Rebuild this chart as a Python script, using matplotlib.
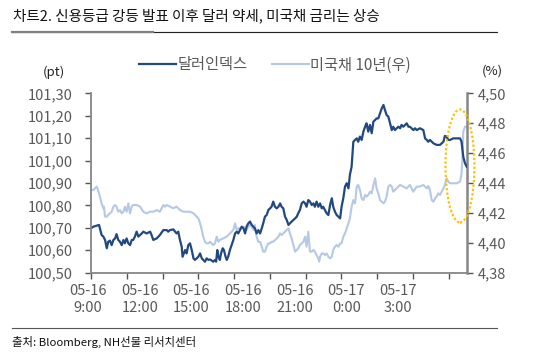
import numpy as np
import matplotlib
matplotlib.use("Agg")
import matplotlib.pyplot as plt
from matplotlib.lines import Line2D
from matplotlib.patches import Ellipse
from matplotlib.ticker import FuncFormatter

plt.rcParams['font.family'] = ['Noto Sans CJK KR', 'DejaVu Sans']

title = "차트2. 신용등급 강등 발표 이후 달러 약세, 미국채 금리는 상승"
source = "출처: Bloomberg, NH선물 리서치센터"
dxy_label = "달러인덱스"
ust_label = "미국채 10년(우)"
x_labels = ["05-16\n9:00", "05-16\n12:00", "05-16\n15:00", "05-16\n18:00",
            "05-16\n21:00", "05-17\n0:00", "05-17\n3:00"]

# minutes elapsed since 05-16 9:00 (approx.)
dxy_time = [0, 8, 20, 28, 37, 43, 49, 55, 60, 66,
            72, 78, 84, 89, 95, 101, 107, 113, 118, 124,
            130, 136, 142, 147, 153, 159, 165, 171, 177, 182,
            194, 206, 211, 217, 229, 240, 252, 264, 269, 275,
            287, 298, 304, 310, 316, 319, 328, 333, 339, 345,
            351, 357, 362, 368, 374, 380, 386, 391, 397, 403,
            409, 415, 426, 432, 436, 440, 444, 449, 453, 459,
            463, 469, 473, 478, 484, 490, 496, 502, 508, 513,
            519, 525, 531, 537, 542, 548, 554, 560, 566, 571,
            577, 583,
            589, 595, 600, 606, 612, 618, 624, 629, 635, 641,
            647, 653, 659, 664, 670, 676, 682, 688, 693, 699,
            705, 711, 717, 722, 728, 734, 740, 746, 751, 757,
            763, 769, 775, 780, 786, 792, 798, 804, 809, 815,
            821, 827, 833, 839, 844, 850, 856, 862, 868, 873,
            879, 885, 891, 897, 902, 908, 914, 920, 926, 931,
            937, 943, 949, 955, 960, 966, 972, 978, 984, 990,
            995, 1001, 1007, 1013, 1019, 1024, 1030, 1036, 1042, 1048,
            1053, 1059, 1065, 1071, 1077, 1082, 1088, 1100, 1106, 1111,
            1117, 1123, 1129, 1135, 1146, 1158, 1164, 1170, 1175, 1181,
            1193, 1204, 1216, 1228, 1233, 1239, 1245, 1251, 1262, 1274,
            1286, 1291, 1297, 1303, 1309]
dxy_value = [100.698, 100.705, 100.710, 100.713, 100.668, 100.661, 100.646, 100.609, 100.638, 100.643,
             100.623, 100.646, 100.653, 100.672, 100.646, 100.638, 100.623, 100.646, 100.631, 100.653,
             100.631, 100.623, 100.646, 100.646, 100.661, 100.683, 100.661, 100.668, 100.675, 100.683,
             100.675, 100.683, 100.668, 100.646, 100.653, 100.668, 100.690, 100.690, 100.683, 100.690,
             100.693, 100.675, 100.683, 100.646, 100.616, 100.571, 100.601, 100.586, 100.623, 100.631,
             100.601, 100.564, 100.557, 100.564, 100.571, 100.586, 100.564, 100.557, 100.549, 100.564,
             100.557, 100.559, 100.549, 100.557, 100.549, 100.601, 100.571, 100.557, 100.586, 100.609,
             100.601, 100.571, 100.557, 100.571, 100.601, 100.623, 100.646, 100.675, 100.683, 100.675,
             100.690, 100.705, 100.698, 100.675, 100.705, 100.720, 100.728, 100.713, 100.705, 100.698,
             100.675, 100.690,
             100.675, 100.698, 100.720, 100.750, 100.757, 100.780, 100.787, 100.794, 100.817, 100.794,
             100.787, 100.794, 100.809, 100.794, 100.787, 100.750, 100.735, 100.713, 100.720, 100.728,
             100.735, 100.742, 100.750, 100.765, 100.780, 100.809, 100.817, 100.809, 100.794, 100.824,
             100.817, 100.802, 100.809, 100.794, 100.817, 100.794, 100.809, 100.787, 100.794, 100.780,
             100.765, 100.757, 100.802, 100.832, 100.794, 100.772, 100.757, 100.750, 100.742, 100.794,
             100.832, 100.884, 100.899, 100.876, 100.936, 100.973, 101.084, 101.092, 101.099, 101.084,
             101.107, 101.092, 101.129, 101.151, 101.166, 101.129, 101.159, 101.122, 101.174, 101.181,
             101.188, 101.188, 101.211, 101.233, 101.248, 101.226, 101.203, 101.196, 101.166, 101.136,
             101.151, 101.136, 101.144, 101.151, 101.144, 101.159, 101.151, 101.166, 101.151, 101.151,
             101.144, 101.136, 101.144, 101.136, 101.144, 101.136, 101.099, 101.092, 101.084, 101.092,
             101.077, 101.070, 101.070, 101.084, 101.110, 101.107, 101.092, 101.092, 101.099, 101.099,
             101.099, 101.084, 101.017, 100.988, 100.973]

ust_time = [0, 8, 14, 20, 26, 31, 37, 43, 45, 49,
            55, 60, 66, 72, 78, 84, 89, 95, 101, 107,
            113, 118, 124, 130, 136, 142, 147, 159, 171, 182,
            194, 206, 217, 229, 240, 252, 258, 264, 275, 287,
            298, 310, 322, 333, 345, 357, 368, 374, 380, 386,
            391, 397, 403, 409, 415, 426, 432, 438, 444, 449,
            461, 473, 484, 496, 502, 508, 513, 519, 531, 542,
            548, 554, 560, 566, 571, 577, 583, 589,
            595, 600, 606, 612, 618, 624, 629, 635, 647, 653,
            659, 664, 670, 676, 682, 688, 693, 699, 705, 711,
            717, 722, 728, 734, 740, 746, 751, 757, 763, 769,
            775, 780, 786, 792, 795, 798, 804, 809, 815, 821,
            827, 833, 839, 844, 850, 856, 862, 868, 873, 879,
            885, 891, 897, 902, 908, 914, 920, 926, 931, 937,
            943, 949, 955, 960, 966, 972, 978, 984, 990, 995,
            1001, 1007, 1013, 1019, 1024, 1030, 1036, 1042, 1048, 1053,
            1065, 1077, 1088, 1100, 1111, 1123, 1135, 1146, 1158, 1170,
            1175, 1181, 1187, 1193, 1199, 1204, 1210, 1216, 1222, 1228,
            1233, 1239, 1245, 1251, 1262, 1274, 1286, 1291, 1295, 1297,
            1303, 1307]
ust_value = [4.4353, 4.4353, 4.4364, 4.4376, 4.4342, 4.4309, 4.4264, 4.4231, 4.4242, 4.4175,
             4.4175, 4.4186, 4.4197, 4.4208, 4.4242, 4.4253, 4.4242, 4.4208, 4.4219, 4.4197,
             4.4208, 4.4242, 4.4208, 4.4264, 4.4197, 4.4242, 4.4253, 4.4253, 4.4242, 4.4208,
             4.4197, 4.4208, 4.4208, 4.4219, 4.4208, 4.4253, 4.4242, 4.4253, 4.4242, 4.4231,
             4.4242, 4.4219, 4.4208, 4.4208, 4.4208, 4.4197, 4.4175, 4.4164, 4.4130, 4.4086,
             4.4041, 4.4007, 4.3996, 4.3996, 4.4007, 4.3985, 4.3996, 4.4041, 4.4007, 4.4019,
             4.4030, 4.4041, 4.4063, 4.4086, 4.4130, 4.4086, 4.4097, 4.4097, 4.4108, 4.4086,
             4.4108, 4.4119, 4.4108, 4.4086, 4.4119, 4.4041, 4.4007, 4.4007,
             4.3974, 4.3941, 4.3941, 4.3974, 4.3996, 4.3996, 4.4007, 4.4007, 4.4030, 4.4041,
             4.4063, 4.4052, 4.4063, 4.4074, 4.4086, 4.4097, 4.4063, 4.4030, 4.3985, 4.3941,
             4.3952, 4.3963, 4.3985, 4.3996, 4.4007, 4.4041, 4.3974, 4.4074, 4.3941, 4.3941,
             4.3952, 4.3941, 4.3918, 4.3896, 4.3874, 4.3907, 4.3929, 4.3929, 4.3918, 4.3929,
             4.3907, 4.3896, 4.3907, 4.3952, 4.3974, 4.3985, 4.3974, 4.3996, 4.3996, 4.4041,
             4.4063, 4.4097, 4.4130, 4.4164, 4.4242, 4.4286, 4.4264, 4.4376, 4.4387, 4.4353,
             4.4297, 4.4286, 4.4320, 4.4309, 4.4320, 4.4342, 4.4331, 4.4387, 4.4431, 4.4364,
             4.4331, 4.4286, 4.4275, 4.4264, 4.4275, 4.4309, 4.4376, 4.4387, 4.4376, 4.4342,
             4.4364, 4.4387, 4.4376, 4.4364, 4.4387, 4.4342, 4.4376, 4.4376, 4.4387, 4.4364,
             4.4380, 4.4353, 4.4286, 4.4275, 4.4297, 4.4309, 4.4331, 4.4320, 4.4342, 4.4364,
             4.4387, 4.4431, 4.4409, 4.4398, 4.4398, 4.4398, 4.4409, 4.4465, 4.4599, 4.4744,
             4.4777, 4.4777]

left_ticks = [100.5, 100.6, 100.7, 100.8, 100.9, 101.0, 101.1, 101.2, 101.3]
right_ticks = [4.38, 4.40, 4.42, 4.44, 4.46, 4.48, 4.50]

DARK = '#22497f'
LIGHT = '#b5c8e5'
GRAY = '#595959'
AX = '#868686'

fig = plt.figure(figsize=(5.45, 3.56), dpi=100)
ax = fig.add_axes([91/545, 1-272.7/356, 375.7/545, 179.4/356])
ax2 = ax.twinx()
ax.set_zorder(ax2.get_zorder() + 1)
ax.patch.set_visible(False)

l1, = ax.plot(dxy_time, dxy_value, color=DARK, lw=1.6, label=dxy_label)
l2, = ax2.plot(ust_time, ust_value, color=LIGHT, lw=1.5, label=ust_label)

ax.set_xlim(0, 1309)
ax.set_ylim(100.5, 101.3)
ax2.set_ylim(4.38, 4.50)
ax.set_yticks(left_ticks)
ax2.set_yticks(right_ticks)
ax.yaxis.set_major_formatter(FuncFormatter(lambda v, p: f"{v:.2f}".replace('.', ',')))
ax2.yaxis.set_major_formatter(FuncFormatter(lambda v, p: f"{v:.2f}".replace('.', ',')))

for a in (ax, ax2):
    a.spines['top'].set_visible(False)
    for s in ('left', 'right', 'bottom'):
        a.spines[s].set_color(AX)
        a.spines[s].set_linewidth(1.3)
ax.spines['right'].set_visible(False)
ax2.spines['left'].set_visible(False)
ax2.spines['bottom'].set_visible(False)
ax2.spines['right'].set_linewidth(1.8)

ax.tick_params(axis='y', direction='out', length=4, width=1, color='#555555',
               labelsize=10.5, labelcolor=GRAY, pad=9)
ax2.tick_params(axis='y', direction='out', length=4, width=1, color='#555555',
                labelsize=10.5, labelcolor=GRAY, pad=4)
ax.set_xticks(np.arange(0, 1309, 124.6))
ax.tick_params(axis='x', direction='out', length=4, width=1, color='#555555', labelbottom=False)

xt = ax.get_xaxis_transform()
for k, lab in enumerate(x_labels):
    top, bot = lab.split('\n')
    xpos = 180 * k - 10
    ax.text(xpos, -0.102, top, transform=xt, ha='center', va='center',
            fontsize=10.5, color=GRAY, clip_on=False)
    ax.text(xpos, -0.197, bot, transform=xt, ha='center', va='center',
            fontsize=10.5, color=GRAY, clip_on=False)

# highlight ellipse
ax.add_patch(Ellipse((0.982, 0.595), 0.077, 0.63, transform=ax.transAxes,
                     fill=False, edgecolor='#FFC000', linestyle=(0, (1, 1)),
                     lw=1.6, clip_on=False, zorder=5))

fig.legend(handles=[l1, l2], loc='center', bbox_to_anchor=(275/545, 1-65/356),
           ncol=2, frameon=False, fontsize=11, handlelength=2.4, handletextpad=0.1,
           columnspacing=1.6, labelcolor=GRAY)

fig.text(54/545, 1-72/356, "(pt)", ha='center', va='center', fontsize=9.5, color='#222222')
fig.text(492/545, 1-71/356, "(%)", ha='center', va='center', fontsize=9.5, color='#222222')

fig.text(13/545, 1-16/356, title, ha='left', va='center', fontsize=10.5, color='#111111',
         fontweight='medium')
fig.add_artist(Line2D([12/545, 497/545], [1-32/356, 1-32/356], color='#777777', lw=0.9))
fig.add_artist(Line2D([12/545, 497/545], [1-32.3/356, 1-32.3/356], color='#000000', lw=0.5))
fig.add_artist(Line2D([12/545, 153/545], [1-32.3/356, 1-32.3/356], color='#808080', lw=1.6))

fig.add_artist(Line2D([12/545, 497/545], [1-328/356, 1-328/356], color='#555555', lw=0.8))
fig.text(12/545, 1-342/356, source, ha='left', va='center', fontsize=8.2, color='#111111')

fig.savefig('out.png', dpi=100)
